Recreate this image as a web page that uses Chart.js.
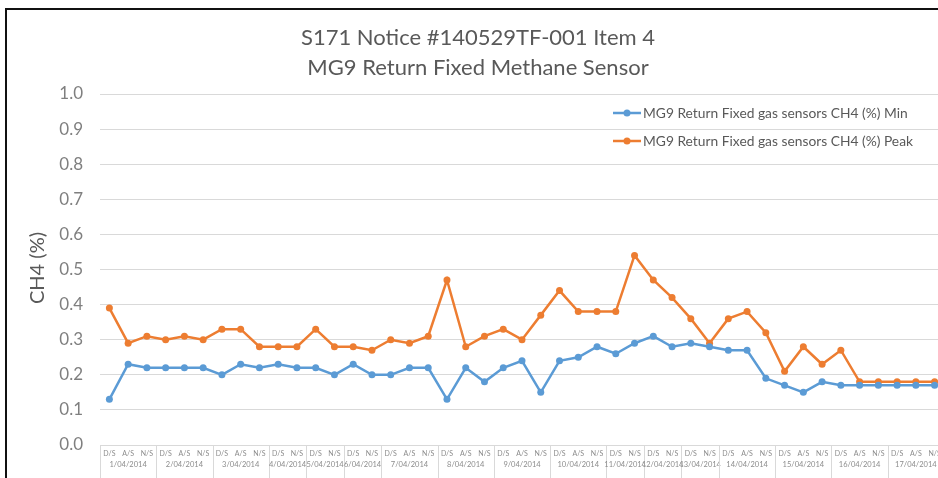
<!DOCTYPE html>
<html>
<head>
<meta charset="utf-8">
<script src="https://cdn.jsdelivr.net/npm/chart.js@4.4.1/dist/chart.umd.min.js"></script>
<style>
html, body { margin: 0; padding: 0; background: #fff; overflow: hidden; }
#wrap { position: absolute; left: 0; top: 0; width: 948px; height: 478px; }
#frame { position: absolute; left: 5px; top: 8px; width: 960px; height: 500px;
	border-left: 2px solid #111; border-top: 2px solid #111; pointer-events: none; }
</style>
</head>
<body>
<div id="wrap"><canvas id="chart" width="948" height="478"></canvas></div>
<div id="frame"></div>
<script>
// shift labels, one per point
var shifts = ['D/S','A/S','N/S', 'D/S','A/S','N/S', 'D/S','A/S','N/S',
	'D/S','N/S', 'D/S','N/S', 'D/S','N/S',
	'D/S','A/S','N/S', 'D/S','A/S','N/S', 'D/S','A/S','N/S', 'D/S','A/S','N/S',
	'D/S','N/S', 'D/S','N/S', 'D/S','N/S',
	'D/S','A/S','N/S', 'D/S','A/S','N/S', 'D/S','A/S','N/S', 'D/S','A/S','N/S'];

// date groups and how many shifts each one spans
var dates = ['1/04/2014','2/04/2014','3/04/2014','4/04/2014','5/04/2014','6/04/2014',
	'7/04/2014','8/04/2014','9/04/2014','10/04/2014','11/04/2014','12/04/2014',
	'13/04/2014','14/04/2014','15/04/2014','16/04/2014','17/04/2014'];
var dateSpans = [3,3,3,2,2,2,3,3,3,3,2,2,2,3,3,3,3];

var minValues = [0.13,0.23,0.22,0.22,0.22,0.22,0.20,0.23,0.22,0.23,0.22,0.22,0.20,0.23,0.20,
	0.20,0.22,0.22,0.13,0.22,0.18,0.22,0.24,0.15,0.24,0.25,0.28,0.26,0.29,0.31,
	0.28,0.29,0.28,0.27,0.27,0.19,0.17,0.15,0.18,0.17,0.17,0.17,0.17,0.17,0.17];
var peakValues = [0.39,0.29,0.31,0.30,0.31,0.30,0.33,0.33,0.28,0.28,0.28,0.33,0.28,0.28,0.27,
	0.30,0.29,0.31,0.47,0.28,0.31,0.33,0.30,0.37,0.44,0.38,0.38,0.38,0.54,0.47,
	0.42,0.36,0.29,0.36,0.38,0.32,0.21,0.28,0.23,0.27,0.18,0.18,0.18,0.18,0.18];

var seriesNames = ['MG9 Return Fixed gas sensors CH4 (%) Min',
	'MG9 Return Fixed gas sensors CH4 (%) Peak'];
var titleLines = ['S171 Notice #140529TF-001 Item 4', 'MG9 Return Fixed Methane Sensor'];
var yTitle = 'CH4 (%)';

var blue = '#5b9bd5';
var orange = '#ed7d31';
var fontName = 'Lato, "Open Sans", sans-serif';

var decorPlugin = {
	id: 'decor',
	afterDraw: function(chart) {
		var ctx = chart.ctx;
		var x = chart.scales.x;
		var area = chart.chartArea;
		ctx.save();

		// titles
		ctx.fillStyle = '#595959';
		ctx.font = '22px ' + fontName;
		ctx.textAlign = 'center';
		ctx.textBaseline = 'middle';
		ctx.fillText(titleLines[0], 478, 38);
		ctx.fillText(titleLines[1], 478, 68);

		// y axis title
		ctx.save();
		ctx.translate(38, 268);
		ctx.rotate(-Math.PI / 2);
		ctx.font = '20px ' + fontName;
		ctx.fillStyle = '#595959';
		ctx.fillText(yTitle, 0, 0);
		ctx.restore();

		// date groups + separators
		var half = (x.getPixelForValue(1) - x.getPixelForValue(0)) / 2;
		ctx.strokeStyle = '#d9d9d9';
		ctx.lineWidth = 1;
		ctx.font = '7.5px ' + fontName;
		ctx.fillStyle = '#8c8c8c';
		var idx = 0;
		for (var i = 0; i < dates.length; i++) {
			var left = x.getPixelForValue(idx) - half;
			var right = x.getPixelForValue(idx + dateSpans[i] - 1) + half;
			ctx.beginPath();
			ctx.moveTo(Math.round(left) + 0.5, area.bottom);
			ctx.lineTo(Math.round(left) + 0.5, 478);
			ctx.stroke();
			ctx.fillText(dates[i], (left + right) / 2, 465);
			idx += dateSpans[i];
		}

		// legend
		var colors = [blue, orange];
		var ly = [113, 141];
		ctx.textAlign = 'left';
		ctx.font = '13.8px ' + fontName;
		for (var k = 0; k < 2; k++) {
			ctx.strokeStyle = colors[k];
			ctx.lineWidth = 2.5;
			ctx.beginPath();
			ctx.moveTo(613, ly[k]);
			ctx.lineTo(641, ly[k]);
			ctx.stroke();
			ctx.fillStyle = colors[k];
			ctx.beginPath();
			ctx.arc(627, ly[k], 3.5, 0, Math.PI * 2);
			ctx.fill();
			ctx.fillStyle = '#595959';
			ctx.fillText(seriesNames[k], 643, ly[k] + 1);
		}
		ctx.restore();
	}
};

new Chart(document.getElementById('chart'), {
	type: 'line',
	data: {
		labels: shifts,
		datasets: [{
			label: seriesNames[0],
			data: minValues,
			borderColor: blue,
			backgroundColor: blue,
			borderWidth: 2.5,
			pointRadius: 3.5,
			pointBorderWidth: 0,
			tension: 0
		}, {
			label: seriesNames[1],
			data: peakValues,
			borderColor: orange,
			backgroundColor: orange,
			borderWidth: 2.5,
			pointRadius: 3.5,
			pointBorderWidth: 0,
			tension: 0
		}]
	},
	options: {
		responsive: false,
		animation: false,
		layout: { padding: { left: 0, right: 4, top: 94, bottom: 0 } },
		plugins: { legend: { display: false }, tooltip: { enabled: false } },
		scales: {
			x: {
				offset: true,
				grid: { display: false, drawTicks: false, tickLength: 0 },
				border: { display: false },
				ticks: {
					autoSkip: false, maxRotation: 0, minRotation: 0,
					padding: 5,
					color: '#8c8c8c',
					font: { family: fontName, size: 7 }
				},
				afterFit: function(scale) { scale.height = 33; }
			},
			y: {
				min: 0, max: 1,
				grid: { color: '#d9d9d9', drawTicks: false },
				border: { display: false },
				ticks: {
					stepSize: 0.1,
					padding: 17,
					color: '#7f7f7f',
					font: { family: fontName, size: 17 },
					callback: function(v) { return v.toFixed(1); }
				},
				afterFit: function(scale) { scale.width = 100; }
			}
		}
	},
	plugins: [decorPlugin]
});
</script>
</body>
</html>
